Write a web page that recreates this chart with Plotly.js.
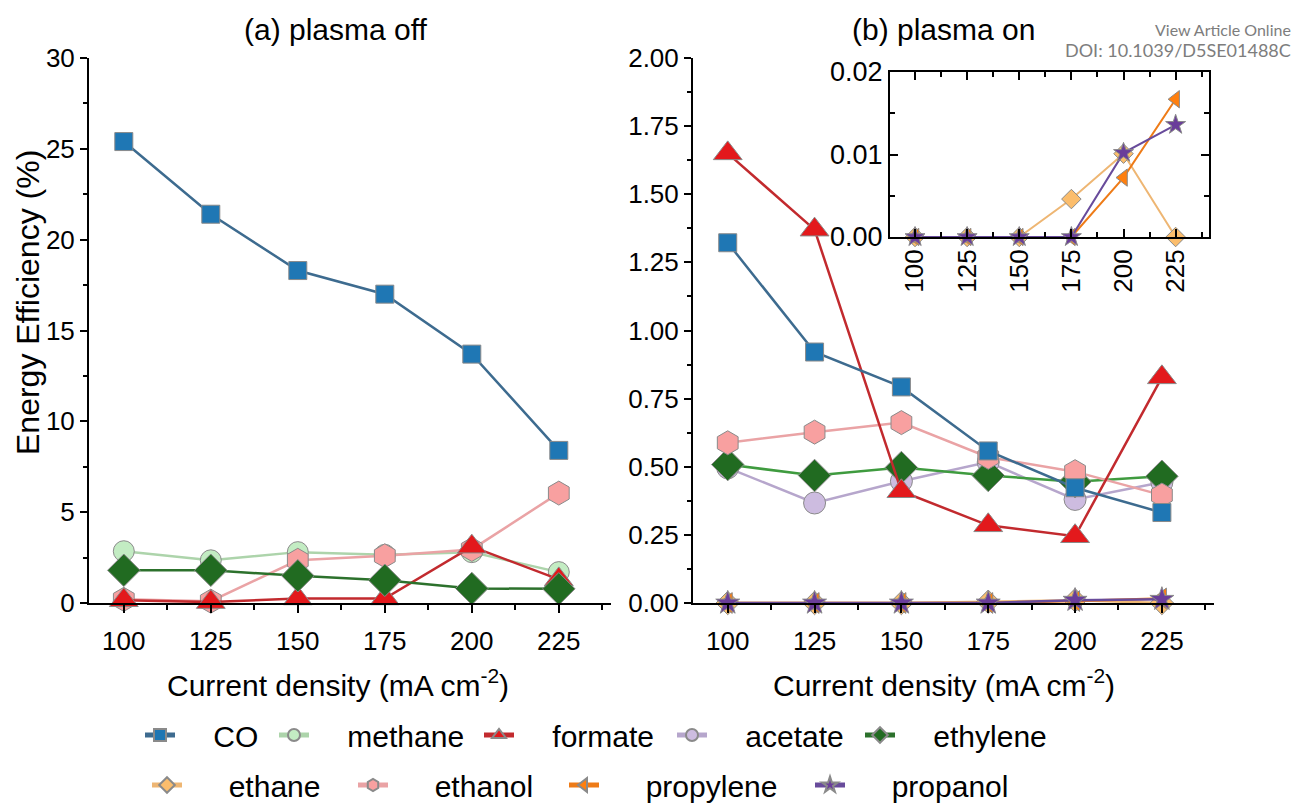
<!DOCTYPE html>
<html><head><meta charset="utf-8">
<script src="https://cdn.plot.ly/plotly-3.0.1.min.js"></script>
<style>html,body{margin:0;padding:0;background:#fff}#chart{width:1296px;height:805px}</style>
</head><body><div id="chart"></div>
<script>
// ---------- data ----------
const currentDensity = [100, 125, 150, 175, 200, 225];
const xTickVals = [100, 125, 150, 175, 200, 225];
const xTickText = ['100', '125', '150', '175', '200', '225'];

// (a) plasma off — energy efficiency (%)
const coOff       = [25.4, 21.4, 18.3, 17.0, 13.7, 8.4];
const methaneOff  = [2.85, 2.35, 2.8, 2.65, 2.8, 1.7];
const formateOff  = [0.15, 0.05, 0.25, 0.25, 3.1, 1.3];
const ethyleneOff = [1.8, 1.8, 1.5, 1.25, 0.8, 0.78];
const ethanolOff  = [0.2, 0.1, 2.35, 2.6, 2.95, 6.05];

// (b) plasma on — energy efficiency (%)
const coOn        = [1.322, 0.921, 0.793, 0.558, 0.423, 0.332];
const formateOn   = [1.65, 1.37, 0.41, 0.285, 0.245, 0.828];
const ethanolOn   = [0.588, 0.627, 0.662, 0.535, 0.482, 0.396];
const acetateOn   = [0.496, 0.367, 0.447, 0.517, 0.38, 0.443];
const ethyleneOn  = [0.508, 0.468, 0.497, 0.468, 0.445, 0.465];
const ethaneOn    = [0, 0, 0, 0.0046, 0.0101, 0];
const propyleneOn = [0, 0, 0, 0, 0.0072, 0.0167];
const propanolOn  = [0, 0, 0, 0, 0.0102, 0.0136];

// ---------- styles ----------
const W = 1296, H = 805;
const FONT = 'Liberation Sans, Arial, sans-serif';
const S = {
  CO:        {name:'CO',        symbol:'square',        mc:'#1f77b4', lc:'#3d6b8f', size:18},
  methane:   {name:'methane',   symbol:'circle',        mc:'#c3ecc3', lc:'#add4ab', size:21},
  formate:   {name:'formate',   symbol:'triangle-up',   mc:'#e3191c', lc:'#c22a2e', size:25},
  acetate:   {name:'acetate',   symbol:'circle',        mc:'#cdbce0', lc:'#b6a6cc', size:22},
  ethylene:  {name:'ethylene',  symbol:'diamond',       mc:'#216b21', lc:'#2c712c', size:25},
  ethane:    {name:'ethane',    symbol:'diamond',       mc:'#fbbd6c', lc:'#eeb673', size:18},
  ethanol:   {name:'ethanol',   symbol:'hexagon',       mc:'#f8a0a0', lc:'#eaa3a5', size:24},
  propylene: {name:'propylene', symbol:'triangle-left', mc:'#ff7f0e', lc:'#ee7b17', size:18},
  propanol:  {name:'propanol',  symbol:'star',          mc:'#6a3d9a', lc:'#684b9b', size:18}
};
// spacing between legend symbol and its text (non-breaking spaces)
const legendGap = {CO:4, methane:4, formate:4, acetate:4, ethylene:4, ethane:5, ethanol:5, propylene:5, propanol:5};

function tr(key, y, xa, ya, opts) {
  const s = S[key];
  opts = opts || {};
  return {
    type:'scatter', mode:'lines+markers', x: currentDensity, y: y,
    xaxis: xa, yaxis: ya, name: '\u00a0'.repeat(legendGap[key]) + s.name,
    line:{color: opts.lc || s.lc, width: opts.lw || 2.5},
    marker:{symbol:s.symbol, color:s.mc, size: opts.size || s.size, line:{color:'#8a8a8a', width:1}},
    showlegend: !!opts.legend, legend: opts.legend || 'legend',
    cliponaxis:false, hoverinfo:'x+y+name'
  };
}

const traces = [
  // panel (a)
  tr('methane',  methaneOff,  'x', 'y', {legend:'legend2'}),
  tr('ethanol',  ethanolOff,  'x', 'y', {legend:'legend7'}),
  tr('formate',  formateOff,  'x', 'y', {legend:'legend3'}),
  tr('ethylene', ethyleneOff, 'x', 'y', {legend:'legend5'}),
  tr('CO',       coOff,       'x', 'y', {legend:'legend'}),
  // panel (b)
  tr('acetate',  acetateOn,   'x2', 'y2', {legend:'legend4'}),
  tr('ethylene', ethyleneOn,  'x2', 'y2', {lc:'#3f9b3f'}),
  tr('ethanol',  ethanolOn,   'x2', 'y2'),
  tr('formate',  formateOn,   'x2', 'y2'),
  tr('CO',       coOn,        'x2', 'y2'),
  tr('ethane',   ethaneOn,    'x2', 'y2', {legend:'legend6'}),
  tr('propylene',propyleneOn, 'x2', 'y2', {legend:'legend8'}),
  tr('propanol', propanolOn,  'x2', 'y2', {legend:'legend9'}),
  // inset
  tr('ethane',   ethaneOn,    'x3', 'y3', {size:15, lw:2}),
  tr('propylene',propyleneOn, 'x3', 'y3', {size:15, lw:2}),
  tr('propanol', propanolOn,  'x3', 'y3', {size:15, lw:2})
];

// ---------- layout ----------
const px = v => v / W, py = v => 1 - v / H;
const domA = [px(89), px(611)], domB = [px(693), px(1214)];
const domY = [py(603), py(58)];
const domIX = [px(890), px(1209)], domIY = [py(237), py(72)];
const tickFont = {family:FONT, size:26, color:'#000'};

function baseAxis(extra) {
  return Object.assign({
    showline:true, linecolor:'#000', linewidth:2, mirror:false,
    ticks:'outside', ticklen:8, tickwidth:2, tickcolor:'#000',
    showgrid:false, zeroline:false, tickfont:tickFont, fixedrange:true
  }, extra);
}
function xMain(dom, anchor) {
  return baseAxis({domain:dom, anchor:anchor, range:[90, 240],
    tickvals:xTickVals, ticktext:xTickText, ticklabelstandoff:6,
    minor:{ticks:'outside', dtick:12.5, ticklen:5, tickwidth:2, tickcolor:'#000'}});
}
function xMirror(over, anchor) {
  return baseAxis({overlaying:over, side:'top', anchor:anchor, range:[90, 240],
    tickvals:xTickVals, ticktext:xTickText, showticklabels:false, ticks:'inside',
    minor:{ticks:'inside', dtick:12.5, ticklen:5, tickwidth:2, tickcolor:'#000'}});
}

const layout = {
  width:W, height:H, paper_bgcolor:'#fff', plot_bgcolor:'rgba(0,0,0,0)',
  margin:{l:0, r:0, t:0, b:0, pad:0, autoexpand:false},
  font:{family:FONT, color:'#000'},
  showlegend:true,
  xaxis:  xMain(domA, 'y'),
  yaxis:  baseAxis({domain:domY, anchor:'x', range:[0, 30], dtick:5, tick0:0, ticklen:7, ticklabelstandoff:0,
           minor:{ticks:'outside', dtick:2.5, ticklen:4, tickwidth:2, tickcolor:'#000'}}),
  xaxis2: xMain(domB, 'y2'),
  yaxis2: baseAxis({domain:domY, anchor:'x2', range:[0, 2], dtick:0.25, tick0:0, tickformat:'.2f',
           ticklen:7, ticklabelstandoff:0,
           minor:{ticks:'outside', dtick:0.125, ticklen:4, tickwidth:2, tickcolor:'#000'}}),
  xaxis3: baseAxis({domain:domIX, anchor:'y3', range:[88, 241], mirror:'ticks', ticks:'inside',
           tickvals:xTickVals, ticktext:xTickText, tickangle:-90, ticklabelstandoff:0,
           minor:{ticks:'inside', dtick:12.5, ticklen:5, tickwidth:2, tickcolor:'#000'}}),
  yaxis3: baseAxis({domain:domIY, anchor:'x3', range:[0, 0.02], dtick:0.01, tick0:0, tickformat:'.2f',
           mirror:'ticks', ticks:'inside', tickfont:{family:FONT, size:27, color:'#000'},
           minor:{ticks:'inside', dtick:0.005, ticklen:5, tickwidth:2, tickcolor:'#000'}}),
  xaxis4: xMirror('x', 'y'),
  yaxis4: baseAxis({overlaying:'y', side:'right', anchor:'x', range:[0, 30], dtick:5, tick0:0,
           showticklabels:false, ticks:'inside',
           minor:{ticks:'inside', dtick:2.5, ticklen:5, tickwidth:2, tickcolor:'#000'}}),
  xaxis5: xMirror('x2', 'y2'),
  yaxis5: baseAxis({overlaying:'y2', side:'right', anchor:'x2', range:[0, 2], dtick:0.25, tick0:0,
           showticklabels:false, ticks:'inside',
           minor:{ticks:'inside', dtick:0.125, ticklen:5, tickwidth:2, tickcolor:'#000'}}),
  annotations: [
    {text:'(a) plasma off', x:px(336), y:py(30), xref:'paper', yref:'paper', showarrow:false,
     font:{family:FONT, size:30}, xanchor:'center', yanchor:'middle'},
    {text:'(b) plasma on', x:px(943), y:py(30), xref:'paper', yref:'paper', showarrow:false,
     font:{family:FONT, size:30}, xanchor:'center', yanchor:'middle'},
    {text:'Energy Efficiency (%)', x:px(28), y:py(303), xref:'paper', yref:'paper', showarrow:false,
     textangle:-90, font:{family:FONT, size:32}, xanchor:'center', yanchor:'middle'},
    {text:'Current density (mA cm<sup>-2</sup>)', x:px(338), y:py(683), xref:'paper', yref:'paper',
     showarrow:false, font:{family:FONT, size:30}, xanchor:'center', yanchor:'middle'},
    {text:'Current density (mA cm<sup>-2</sup>)', x:px(944), y:py(683), xref:'paper', yref:'paper',
     showarrow:false, font:{family:FONT, size:30}, xanchor:'center', yanchor:'middle'},
    {text:'View Article Online', x:px(1293), y:py(30), xref:'paper', yref:'paper', showarrow:false,
     font:{family:'Lato, sans-serif', size:16, color:'#7d7d7d'}, xanchor:'right', yanchor:'middle'},
    {text:'DOI: 10.1039/D5SE01488C', x:px(1293), y:py(50), xref:'paper', yref:'paper', showarrow:false,
     font:{family:'Lato, sans-serif', size:18, color:'#7d7d7d'}, xanchor:'right', yanchor:'middle'}
  ]
};

// legend entries: [legend id, marker centre x, centre y]
const legendPos = [
  ['legend', 160, 735], ['legend2', 294, 735], ['legend3', 499, 735], ['legend4', 692, 735],
  ['legend5', 880, 735], ['legend6', 167, 785], ['legend7', 373, 785], ['legend8', 584, 785],
  ['legend9', 830, 785]
];
legendPos.forEach(([id, mx, my]) => {
  layout[id] = {x:px(mx - 20), y:py(my), xanchor:'left', yanchor:'middle',
    bgcolor:'rgba(0,0,0,0)', borderwidth:0, font:{family:FONT, size:30, color:'#000'},
    itemsizing:'constant', orientation:'h', tracegroupgap:0, itemclick:false, itemdoubleclick:false};
});

Plotly.newPlot('chart', traces, layout, {staticPlot:true, displayModeBar:false});
</script>
</body></html>
